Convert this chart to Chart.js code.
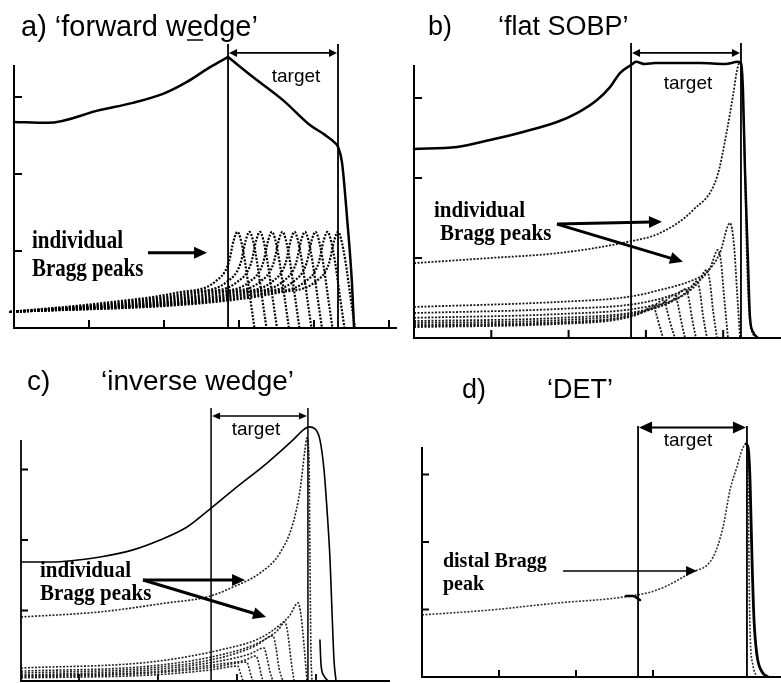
<!DOCTYPE html>
<html><head><meta charset="utf-8">
<script src="https://cdn.jsdelivr.net/npm/chart.js@4.4.1/dist/chart.umd.min.js"></script>
<style>
html,body{margin:0;padding:0;background:#fff;}
body{width:781px;height:683px;position:relative;overflow:hidden;}
canvas{position:absolute;display:block;}
</style></head><body>
<canvas id="ca" width="391" height="340" style="left:0;top:0"></canvas>
<canvas id="cb" width="391" height="345" style="left:390px;top:0"></canvas>
<canvas id="cc" width="390" height="343" style="left:0;top:340px"></canvas>
<canvas id="cd" width="391" height="343" style="left:390px;top:340px"></canvas>
<script>
// ---------------- DATA (depth in mm, relative dose in %) ----------------
const yTickValues = [25, 50, 75];

// a) forward wedge
const xTicksA = [50, 100, 150, 200, 250];
const sobpA = [[0,66.9],[22.7,66.6],[57.3,70.8],[79.3,73.1],[99.3,76.0],[115.3,79.9],[130.7,84.7],[142.7,88.0],[159.3,81.5],[179.3,74.0],[197.3,65.9],[207.3,62.7],[214,60.1],[216,58.8],[218.7,53.6],[222,36.0],[225.3,14.6],[226.7,0]];
const sobpCornersA = [7];
const peakDoseA = [5.2, 8.1, 11.5, 15.0, 21.0, 28.5, 31.2, 29.0, 21.5, 9.5, 0];
const peakDepthA = [
  [-3, 59, 109, 134, 143, 146.5, 149, 151, 154, 157.5, 160.3],
  [-3, 67, 117, 142, 151, 154.5, 157, 159, 162, 165.5, 168.3],
  [-3, 74, 124, 149, 158, 161.5, 164, 166, 169, 172.5, 175.3],
  [-3, 82, 132, 157, 166, 169.5, 172, 174, 177, 180.5, 183.3],
  [-3, 89, 139, 164, 173, 176.5, 179, 181, 184, 187.5, 190.3],
  [-3, 97, 147, 172, 181, 184.5, 187, 189, 192, 195.5, 198.3],
  [-3, 104, 154, 179, 188, 191.5, 194, 196, 199, 202.5, 205.3],
  [-3, 111, 161, 186, 195, 198.5, 201, 203, 206, 209.5, 212.3],
  [-3, 119, 169, 194, 203, 206.5, 209, 211, 214, 217.5, 220.3],
  [-3, 126, 176, 201, 210, 213.5, 216, 218, 221, 224.5, 227.3]
];

// b) flat SOBP
const xTicksB = [50, 100, 150, 200];
const sobpB = [[0,59.1],[27.8,59.7],[49.2,61.9],[70.5,64.4],[92.5,67.5],[105.4,70.3],[118.4,74.4],[126.8,78.4],[133.2,82.8],[140.4,85.3],[143.6,86.3],[149.4,85.6],[155.9,85.9],[185,85.9],[201.2,85.6],[209.6,86.3],[211.5,85.9],[212.8,77.5],[214.1,52.5],[216,24.4],[217.3,6.6],[219.3,1.9],[222.5,0]];
const sobpCornersB = [9];
const peaksB = [
  [[0,23.4],[49.2,25.0],[94.4,26.6],[137.8,30.0],[159.1,32.8],[180.5,40.0],[196,50.3],[202.5,65],[206.4,75.9],[209,83.8],[210.9,86.3],[212.5,77.5],[214.1,52.5],[215.4,24.4],[217.3,5.6],[221.2,0]],
  [[0,9.7],[94.4,11.3],[137.8,12.8],[159.1,15.0],[180.5,18.1],[189.5,20.6],[197.9,26.6],[204.4,35.9],[207,29.1],[208.9,15.0],[210.9,0]],
  [[0,7.8],[94.4,9.1],[146.2,10.9],[172.1,14.4],[185,18.1],[191.5,21.9],[196.6,27.5],[198.6,23.8],[200.5,13.4],[203.1,0]],
  [[0,6.3],[94.4,7.5],[146.2,9.4],[172.1,12.8],[183.1,16.9],[189.5,21.3],[191.5,17.2],[193.4,8.8],[196,0]],
  [[0,5.3],[94.4,6.3],[146.2,8.4],[168.8,11.9],[178.5,15.3],[183.1,17.8],[185,14.4],[186.9,7.2],[189.5,0]],
  [[0,4.7],[94.4,5.6],[139.7,7.5],[165.6,11.25],[175.9,15.3],[177.9,11.9],[179.8,6.3],[182.4,0]],
  [[0,4.1],[94.4,5.0],[139.7,6.9],[159.1,10.3],[168.8,13.4],[170.8,10.3],[172.7,5.6],[175.3,0]],
  [[0,3.75],[94.4,4.7],[133.2,6.3],[152.7,9.1],[161.7,11.9],[163.6,8.8],[165.6,5.0],[168.8,0]],
  [[0,3.4],[94.4,4.4],[133.2,5.9],[148.1,8.1],[154.6,10.3],[156.5,7.8],[158.5,4.4],[161.1,0]]
];

// c) inverse wedge
const xTicksC = [36.7, 86.7, 136.7, 186.7];
const sobpC = [[0,42.2],[18.4,42.2],[50,44.0],[70.9,46.5],[88,50.0],[105.1,54.6],[120.3,61.3],[134.2,67.7],[155.7,77.3],[172.2,85.5],[178.5,89.0],[182.3,90.1],[186.1,89.4],[189.2,85.5],[191.8,74.8],[193.7,60.6],[195.6,42.9],[196.8,25.2],[198.1,7.4],[199.4,0]];
const sobpCornersC = [6];
const tailC = [[189.2,14.5],[189.9,5.7],[191.8,1.8],[194.3,0]];
const peaksC = [
  [[0,22.7],[50,24.5],[92.4,27.7],[117.7,29.8],[134.2,33.3],[151.3,38.3],[163.9,45.4],[172.2,56.0],[176.6,67.7],[179.7,81.9],[181,86.2],[182.3,78.4],[182.9,42.9],[183.5,11.0],[184.2,0]],
  [[0,4.6],[81.6,6.7],[125.9,11.0],[151.3,15.2],[163.9,19.9],[170.3,23.4],[175.3,27.7],[177.2,23.4],[179.1,12.8],[181,0]],
  [[0,3.5],[81.6,5.3],[125.9,9.2],[151.3,13.8],[162.7,18.1],[167.1,20.9],[169,16.3],[170.9,7.4],[172.8,0]],
  [[0,2.8],[81.6,4.6],[125.9,8.2],[148.1,12.4],[159.5,16.0],[161.4,11.7],[163.3,4.6],[165.8,0]],
  [[0,2.1],[81.6,3.9],[125.9,7.1],[144.9,9.6],[153.8,11.7],[155.7,8.2],[157.6,3.2],[159.5,0]],
  [[0,1.8],[81.6,3.2],[125.9,6.0],[141.8,7.4],[148.7,8.9],[150.6,6.0],[151.9,2.5],[153.2,0]],
  [[0,1.4],[81.6,2.8],[122.8,5.0],[143,6.7],[144.3,4.6],[145.6,1.8],[146.8,0]],
  [[0,1.1],[81.6,2.1],[119.6,3.9],[137.3,5.3],[138.6,3.2],[139.9,1.1],[140.5,0]]
];

// d) DET
const xTicksD = [50, 100, 150];
const distalPeakD = [[0,23.0],[44.2,24.8],[87.7,27.4],[130.5,29.6],[152.6,32.2],[174,38.5],[189,44.4],[195.5,55.6],[200,69.3],[204.5,77.8],[207.8,84.1],[210.4,86.3],[211.7,73.0],[212.3,43.3],[213,17.4],[214.9,4.4],[217.5,0]];
const totalD = [[210.4,86.3],[211.7,85.2],[213,73],[214.3,43.3],[215.6,21.1],[217.5,8.1],[220.8,1.9],[224.7,0]];
const stubD = [[132.5,30],[137,30],[141.6,28.5]];

// ---------------- RENDERING ----------------
const toXY = a => a.map(p => ({x: p[0], y: p[1]}));
const solid = (pts, w) => ({data: toXY(pts), borderColor: '#000', borderWidth: w, borderCapStyle: 'round', borderJoinStyle: 'round', pointRadius: 0, fill: false, cubicInterpolationMode: 'monotone'});
const dotted = (pts, w, c) => ({data: toXY(pts), borderColor: c || '#222', borderWidth: w, borderDash: [2, 1.5], borderCapStyle: 'butt', pointRadius: 0, fill: false, cubicInterpolationMode: 'monotone'});
// a solid curve with sharp corners at the given point indices (split into smooth pieces)
function solidWithCorners(pts, corners, w) {
  const cuts = [0].concat(corners, [pts.length - 1]);
  const out = [];
  for (let i = 0; i < cuts.length - 1; i++) out.push(solid(pts.slice(cuts[i], cuts[i + 1] + 1), w));
  return out;
}

function drawArrow(ctx, x1, y1, x2, y2, lw, hl, hw, both) {
  const ang = Math.atan2(y2 - y1, x2 - x1);
  const c = Math.cos(ang), s = Math.sin(ang);
  ctx.lineWidth = lw;
  ctx.beginPath();
  ctx.moveTo(both ? x1 + c * hl * 0.8 : x1, both ? y1 + s * hl * 0.8 : y1);
  ctx.lineTo(x2 - c * hl * 0.8, y2 - s * hl * 0.8);
  ctx.stroke();
  const head = (x, y, cc, ss) => {
    ctx.beginPath();
    ctx.moveTo(x, y);
    ctx.lineTo(x - cc * hl + ss * hw / 2, y - ss * hl - cc * hw / 2);
    ctx.lineTo(x - cc * hl - ss * hw / 2, y - ss * hl + cc * hw / 2);
    ctx.closePath(); ctx.fill();
  };
  head(x2, y2, c, s);
  if (both) head(x1, y1, -c, -s);
}

function overlayPlugin(o) {
  return {
    id: 'overlay',
    afterDatasetsDraw(chart) {
      const ctx = chart.ctx, X = chart.scales.x, Y = chart.scales.y;
      const px = v => X.getPixelForValue(v), py = v => Y.getPixelForValue(v);
      ctx.save();
      ctx.setLineDash([]);
      ctx.strokeStyle = '#000'; ctx.fillStyle = '#000'; ctx.lineCap = 'butt';
      // axes
      ctx.lineWidth = o.axisW;
      ctx.beginPath();
      ctx.moveTo(px(0), py(o.yAxisTop)); ctx.lineTo(px(0), py(0) + o.axisW / 2);
      ctx.moveTo(px(0) - o.axisW / 2, py(0)); ctx.lineTo(px(o.xAxisEnd), py(0));
      ctx.stroke();
      ctx.lineWidth = o.tickW;
      ctx.beginPath();
      yTickValues.forEach(v => { ctx.moveTo(px(0), py(v)); ctx.lineTo(px(0) + o.tickLen, py(v)); });
      o.xTicks.forEach(v => { ctx.moveTo(px(v), py(0)); ctx.lineTo(px(v), py(0) - o.tickLen); });
      (o.extra || []).forEach(l => { ctx.moveTo(px(l[0]), py(l[1])); ctx.lineTo(px(l[2]), py(l[3])); });
      ctx.stroke();
      // target lines
      ctx.lineWidth = o.targetW;
      ctx.beginPath();
      o.targets.forEach(v => { ctx.moveTo(px(v), py(0)); ctx.lineTo(px(v), py(o.targetTop)); });
      ctx.stroke();
      drawArrow(ctx, px(o.targets[0]) + 1, py(o.arrowY), px(o.targets[1]) - 1, py(o.arrowY), o.dblW, o.dblHead[0], o.dblHead[1], true);
      ctx.font = o.targetFont;
      ctx.textAlign = 'center'; ctx.textBaseline = 'alphabetic';
      ctx.fillText('target', px(o.targetLabel[0]), py(o.targetLabel[1]));
      // titles (canvas pixel positions)
      ctx.textAlign = 'left';
      ctx.font = o.titleFont;
      o.titles.forEach(t => ctx.fillText(t[0], t[1], t[2]));
      if (o.underline) {
        const t = o.titles[0];
        const x0 = t[1] + ctx.measureText(t[0].slice(0, o.underline[0])).width;
        const w = ctx.measureText(t[0].charAt(o.underline[0])).width;
        ctx.lineWidth = 1.5; ctx.beginPath();
        ctx.moveTo(x0, t[2] + o.underline[1]); ctx.lineTo(x0 + w, t[2] + o.underline[1]); ctx.stroke();
      }
      // labels (slightly stretched vertically, as in the scanned figure)
      ctx.font = o.labelFont;
      o.labels.forEach(t => {
        ctx.save(); ctx.translate(px(t[1]), py(t[2])); ctx.scale(1, o.labelStretch || 1);
        ctx.fillText(t[0], 0, 0); ctx.restore();
      });
      o.arrows.forEach(a => drawArrow(ctx, px(a[0]), py(a[1]), px(a[2]), py(a[3]), o.arrowW, o.arrowHead[0], o.arrowHead[1], false));
      ctx.restore();
    }
  };
}

function makePanel(id, g, datasets, o) {
  const el = document.getElementById(id);
  const pad = {
    left: g.ox + g.xMin * g.ppx,
    right: el.width - (g.ox + g.xMax * g.ppx),
    top: g.oy - 100 * g.ppy,
    bottom: el.height - g.oy
  };
  new Chart(el, {
    type: 'line',
    data: {datasets},
    options: {
      responsive: false, animation: false, devicePixelRatio: 1,
      layout: {padding: pad},
      scales: {
        x: {type: 'linear', min: g.xMin, max: g.xMax, display: false},
        y: {type: 'linear', min: 0, max: 100, display: false}
      },
      plugins: {legend: {display: false}, tooltip: {enabled: false}, title: {display: false}},
      elements: {point: {radius: 0}}
    },
    plugins: [overlayPlugin(o)]
  });
}

const SANS = 'Arial, "Liberation Sans", sans-serif';
const TARGET = '19px ' + SANS;
const LABEL = 'bold 21px "Times New Roman", "Liberation Serif", serif';

// panel a
makePanel('ca', {ox: 14, oy: 328, ppx: 1.5, ppy: 3.08, xMin: -6, xMax: 251},
  solidWithCorners(sobpA, sobpCornersA, 2.5).concat(peakDepthA.map(d => dotted(d.map((x, i) => [x, peakDoseA[i]]), 2.2, '#000'))),
  {axisW: 2, tickW: 2, tickLen: 8, yAxisTop: 85.4, xAxisEnd: 251, xTicks: xTicksA,
   targets: [142.7, 216], targetTop: 92.2, targetW: 1.8, arrowY: 89.3, dblW: 1.8, dblHead: [8, 8],
   targetFont: TARGET, targetLabel: [188, 79.9],
   titleFont: '29px ' + SANS, titles: [['a) \u2018forward wedge\u2019', 21, 36]], underline: [13, 4],
   labelFont: LABEL, labelStretch: 1.2, labels: [['individual', 12, 26.0], ['Bragg peaks', 12, 16.9]],
   arrows: [[89.3, 24.4, 128.7, 24.4]], arrowW: 3, arrowHead: [13, 12]});

// panel b
makePanel('cb', {ox: 24, oy: 338, ppx: 1.546, ppy: 3.2, xMin: -6, xMax: 237.4},
  solidWithCorners(sobpB, sobpCornersB, 2.5).concat(peaksB.map(p => dotted(p, 1.8, '#1a1a1a'))),
  {axisW: 2, tickW: 2, tickLen: 8, yAxisTop: 85.3, xAxisEnd: 237.4, xTicks: xTicksB,
   extra: [[-15.5, 3.1, -11, 3.1]],
   targets: [140.4, 211.5], targetTop: 92.2, targetW: 1.8, arrowY: 89.1, dblW: 1.8, dblHead: [8, 8],
   targetFont: TARGET, targetLabel: [177.2, 77.8],
   titleFont: '27px ' + SANS, titles: [['b)', 38, 35], ['\u2018flat SOBP\u2019', 108, 35]],
   labelFont: LABEL, labelStretch: 1.1, labels: [['individual', 12.9, 37.8], ['Bragg peaks', 16.8, 30.6]],
   arrows: [[92.5, 35.6, 160.4, 36.3], [92.5, 35.6, 174, 23.8]], arrowW: 3, arrowHead: [13, 12]});

// panel c
makePanel('cc', {ox: 21, oy: 341, ppx: 1.58, ppy: 2.82, xMin: -6, xMax: 233.5},
  solidWithCorners(sobpC, sobpCornersC, 1.6).concat([solid(tailC, 1.6)], peaksC.map(p => dotted(p, 1.6, '#222'))),
  {axisW: 1.8, tickW: 1.8, tickLen: 7, yAxisTop: 85.5, xAxisEnd: 233.5, xTicks: xTicksC,
   targets: [120.3, 181.6], targetTop: 96.8, targetW: 1.5, arrowY: 94.0, dblW: 1.5, dblHead: [8, 7],
   targetFont: TARGET, targetLabel: [148.7, 87.2],
   titleFont: '28px ' + SANS, titles: [['c)', 27, 50], ['\u2018inverse wedge\u2019', 101, 50]],
   labelFont: LABEL, labelStretch: 1.1, labels: [['individual', 12, 36.9], ['Bragg peaks', 12, 28.7]],
   arrows: [[77.2, 35.8, 141.8, 35.8], [77.2, 35.8, 155.1, 22.7]], arrowW: 3, arrowHead: [13, 12]});

// panel d
makePanel('cd', {ox: 32, oy: 337, ppx: 1.54, ppy: 2.7, xMin: -6, xMax: 233.1},
  [solid(totalD, 2.8), solid(stubD, 2.5), dotted(distalPeakD, 1.6, '#333')],
  {axisW: 2, tickW: 2, tickLen: 7, yAxisTop: 85.2, xAxisEnd: 233.1, xTicks: xTicksD,
   targets: [140.3, 211], targetTop: 93, targetW: 1.8, arrowY: 92.4, dblW: 2, dblHead: [13, 12],
   targetFont: TARGET, targetLabel: [172.7, 85.6],
   titleFont: '27px ' + SANS, titles: [['d)', 72, 58], ['\u2018DET\u2019', 157, 58]],
   labelFont: 'bold 20px "Times New Roman", "Liberation Serif", serif', labelStretch: 1.1, labels: [['distal Bragg', 13.6, 40.7], ['peak', 13.6, 32.2]],
   arrows: [[91.6, 39.3, 178.6, 39.3]], arrowW: 1.5, arrowHead: [11, 10]});
</script>
</body></html>
